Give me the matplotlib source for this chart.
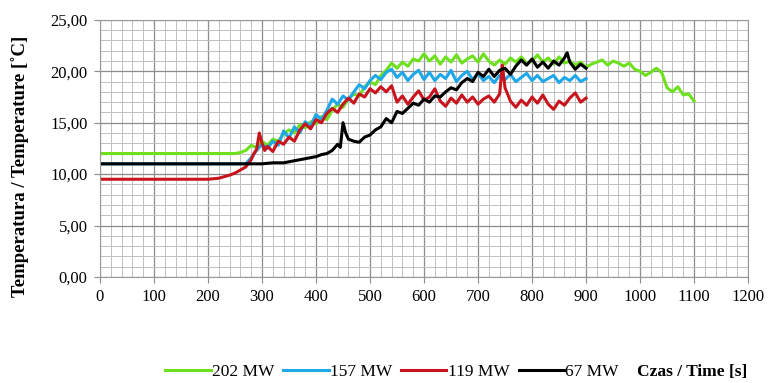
import matplotlib.pyplot as plt
from matplotlib.ticker import MultipleLocator, FuncFormatter

# 202 MW
t_202 = [0, 250, 260, 270, 280, 290, 300, 310, 320, 330, 340, 350, 360, 370, 380, 390, 400,
         410, 420, 430, 440, 450, 460, 470, 480, 490, 500, 510, 520, 530, 540, 550, 560, 570,
         580, 590, 600, 610, 620, 630, 640, 650, 660, 670, 680, 690, 700, 710, 720, 730, 740,
         750, 760, 770, 780, 790, 800, 810, 820, 830, 840, 850, 860, 870, 880, 890, 900, 910,
         920, 930, 940, 950, 960, 970, 980, 990, 1000, 1010, 1020, 1030, 1040, 1050, 1060,
         1070, 1080, 1090, 1100]
T_202 = [12.0, 12.0, 12.1, 12.3, 12.8, 12.6, 13.2, 12.8, 13.4, 13.2, 13.9, 14.3, 14.0, 14.8,
         14.5, 15.1, 14.9, 15.6, 15.3, 16.2, 16.8, 16.5, 17.3, 17.8, 17.6, 18.5, 19.0, 18.7,
         19.6, 20.1, 20.8, 20.3, 20.9, 20.5, 21.2, 21.0, 21.7, 21.0, 21.5, 20.7, 21.4, 20.9,
         21.6, 20.8, 21.2, 21.5, 20.9, 21.7, 21.0, 20.6, 21.1, 20.7, 21.3, 20.9, 21.4, 20.8,
         21.0, 21.6, 20.9, 21.3, 20.7, 21.4, 20.8, 21.0, 20.6, 20.9, 20.4, 20.7, 20.9, 21.1,
         20.6, 21.0, 20.8, 20.5, 20.8, 20.2, 20.0, 19.6, 19.9, 20.3, 19.9, 18.4, 18.0, 18.5,
         17.7, 17.8, 17.1]

# 157 MW
t_157 = [0, 270, 280, 290, 300, 310, 320, 330, 340, 350, 360, 370, 380, 390, 400, 410, 420,
         430, 440, 450, 460, 470, 480, 490, 500, 510, 520, 530, 540, 550, 560, 570, 580, 590,
         600, 610, 620, 630, 640, 650, 660, 670, 680, 690, 700, 710, 720, 730, 740, 750, 760,
         770, 780, 790, 800, 810, 820, 830, 840, 850, 860, 870, 880, 890, 900]
T_157 = [11.0, 11.0, 11.6, 12.3, 12.9, 12.5, 13.2, 12.8, 14.2, 13.5, 14.6, 14.0, 15.1, 14.7,
         15.8, 15.3, 16.2, 17.3, 16.8, 17.6, 17.2, 18.0, 18.7, 18.3, 19.1, 19.6, 19.2, 19.9,
         20.2, 19.4, 19.9, 19.1, 19.7, 20.1, 19.2, 19.9, 19.1, 19.7, 19.3, 20.1, 19.0, 19.6,
         20.0, 19.2, 19.8, 19.1, 19.5, 18.9, 19.6, 19.2, 19.7, 19.0, 19.4, 19.8, 19.1, 19.6,
         19.0, 19.3, 19.6, 18.9, 19.4, 19.1, 19.6, 19.0, 19.3]

# 119 MW
t_119 = [0, 200, 220, 240, 250, 260, 270, 280, 285, 290, 295, 300, 305, 310, 320, 330, 340,
         350, 360, 370, 380, 390, 400, 410, 420, 430, 440, 450, 460, 470, 480, 490, 500, 510,
         520, 530, 540, 550, 560, 570, 580, 590, 600, 610, 620, 630, 640, 650, 660, 670, 680,
         690, 700, 710, 720, 730, 740, 745, 750, 760, 770, 780, 790, 800, 810, 820, 830, 840,
         850, 860, 870, 880, 890, 900]
T_119 = [9.5, 9.5, 9.6, 9.9, 10.1, 10.4, 10.7, 11.4, 12.0, 12.4, 14.0, 13.0, 12.3, 12.7,
         12.2, 13.2, 12.9, 13.6, 13.2, 14.3, 14.9, 14.4, 15.3, 15.0, 15.9, 16.4, 16.0, 16.8,
         17.4, 16.9, 17.8, 17.5, 18.3, 17.9, 18.5, 18.0, 18.6, 17.0, 17.6, 16.8, 17.5, 18.1,
         17.2, 17.5, 18.3, 17.1, 16.6, 17.4, 16.9, 17.7, 17.0, 17.5, 16.8, 17.3, 17.6, 17.0,
         17.8, 20.6, 18.4, 17.1, 16.5, 17.2, 16.7, 17.5, 16.9, 17.7, 16.8, 16.3, 17.1, 16.7,
         17.4, 17.9, 17.0, 17.4]

# 67 MW
t_67 = [0, 300, 320, 340, 360, 380, 400, 410, 420, 430, 440, 445, 450, 455, 460, 470, 480,
        490, 500, 510, 520, 530, 540, 550, 560, 570, 580, 590, 600, 610, 620, 630, 640, 650,
        660, 670, 680, 690, 700, 710, 720, 730, 740, 750, 760, 770, 780, 790, 800, 810, 820,
        830, 840, 850, 860, 865, 870, 880, 890, 900]
T_67 = [11.0, 11.0, 11.1, 11.1, 11.3, 11.5, 11.7, 11.9, 12.0, 12.3, 12.9, 12.6, 15.0, 14.0,
        13.4, 13.2, 13.1, 13.6, 13.8, 14.3, 14.6, 15.4, 15.0, 16.1, 15.9, 16.4, 16.9, 16.7,
        17.3, 17.0, 17.6, 17.5, 18.0, 18.4, 18.2, 18.9, 19.3, 19.0, 19.9, 19.5, 20.2, 19.5,
        20.1, 20.3, 19.7, 20.5, 21.1, 20.6, 21.2, 20.4, 20.9, 20.3, 21.0, 20.6, 21.3, 21.8,
        20.9, 20.2, 20.7, 20.3]

series = [("202 MW", t_202, T_202, "#6ee01e"),
          ("157 MW", t_157, T_157, "#1fa8e8"),
          ("119 MW", t_119, T_119, "#c8141c"),
          ("67 MW", t_67, T_67, "#000000")]

plt.rcParams['font.family'] = ['Liberation Serif', 'DejaVu Serif']

fig = plt.figure(figsize=(7.72, 3.83), dpi=100)
ax = fig.add_axes([0.1295, 0.277, 0.8395, 0.671])

for name, t, T, c in series:
    ax.plot(t, T, color=c, lw=2.2, label=name)

ax.set_xlim(0, 1200)
ax.set_ylim(0, 25)
ax.xaxis.set_major_locator(MultipleLocator(100))
ax.xaxis.set_minor_locator(MultipleLocator(20))
ax.yaxis.set_major_locator(MultipleLocator(5))
ax.yaxis.set_minor_locator(MultipleLocator(1))
ax.yaxis.set_major_formatter(FuncFormatter(lambda v, p: f"{v:.2f}".replace(".", ",")))

ax.grid(which="major", color="#8c8c8c", lw=0.9)
ax.grid(which="minor", color="#c0c0c0", lw=0.7)
ax.set_axisbelow(True)
for s in ax.spines.values():
    s.set_color("#9a9a9a")
ax.tick_params(which="major", length=4, color="#8c8c8c", labelsize=12, pad=5)
ax.tick_params(which="minor", length=0)

ax.set_ylabel("Temperatura / Temperature [˚C]", fontweight="bold", fontsize=13.5)
ax.yaxis.set_label_coords(-0.11, 0.43)

fig.legend(loc="center", bbox_to_anchor=(0.508, 0.03), ncol=4, frameon=False,
           fontsize=12.5, handlelength=2.6, handletextpad=0.1, columnspacing=0.5)
fig.text(0.897, 0.03, "Czas / Time [s]", fontweight="bold", fontsize=12.5,
         ha="center", va="center")

fig.savefig("out.png", dpi=100)
